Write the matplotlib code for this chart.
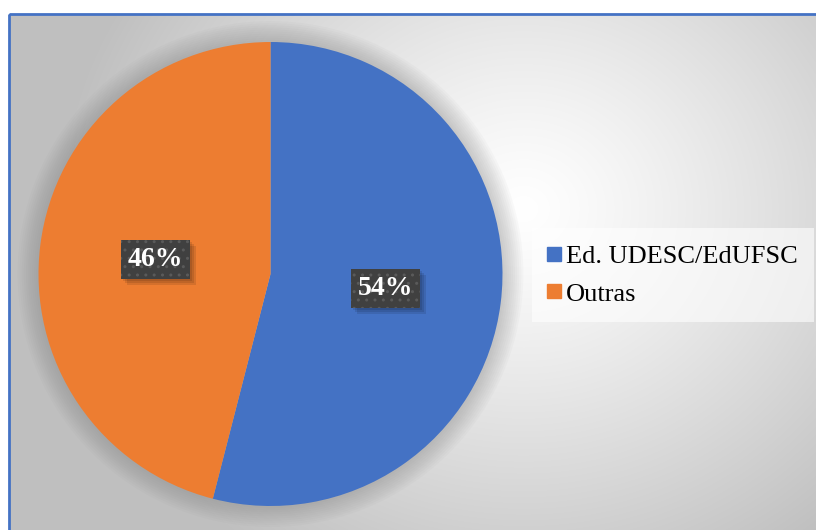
import numpy as np
import matplotlib.pyplot as plt
from matplotlib.patches import Rectangle, Circle

### Data
labels = ['Ed. UDESC/EdUFSC', 'Outras']
shares = [54, 46]
colors = ['#4472C4', '#ED7D31']

plt.rcParams['font.family'] = ['Liberation Serif', 'DejaVu Serif']

W, H = 816, 530
fig = plt.figure(figsize=(W/100, H/100), dpi=100)

### Background: radial grey gradient inside a blue frame
bg = fig.add_axes([0, 0, 1, 1])
bg.set_xlim(0, W)
bg.set_ylim(H, 0)
bg.axis('off')
yy, xx = np.mgrid[0:H, 0:W]
d = np.hypot(xx - 520, (yy - 200)*1.1)
val = 1.0 - 0.25*np.clip(d/470., 0, 1)**1.2
img = np.dstack([val, val, val])
bg.imshow(img, extent=[9, W, H, 14], aspect='auto', zorder=0)
bg.add_patch(Rectangle((9, 14), W, H, fill=False, edgecolor='#4472C4',
                       linewidth=2, zorder=2))

### Pie
cx, cy, r = 270.5, 274, 232
ax = fig.add_axes([(cx - r)/W, (H - cy - r)/H, 2*r/W, 2*r/H])

# soft halo around the pie
for k in range(10):
    ax.add_patch(Circle((0, 0), 1 + 0.009*(10 - k), color='#7a7a7a',
                        alpha=0.04, lw=0, zorder=0, clip_on=False))

wedges, texts, autotexts = ax.pie(shares, colors=colors, startangle=90,
                                  counterclock=False, radius=1,
                                  autopct='%1.0f%%', pctdistance=0.5,
                                  wedgeprops=dict(linewidth=0))
ax.set_xlim(-1, 1)
ax.set_ylim(-1, 1)
ax.axis('off')

for t in autotexts:
    t.set_fontsize(20)
    t.set_fontweight('bold')
    t.set_color('white')
    t.set_zorder(4)
    t.set_bbox(dict(boxstyle='square,pad=0.25', facecolor='#404040',
                    edgecolor='#5a5a5a', hatch='..', linewidth=0))

### Legend
handles = [plt.Line2D([], [], marker='s', linestyle='none', markersize=10,
                      markerfacecolor=c, markeredgecolor=c) for c in colors]
le = fig.legend(handles, labels, loc='center left',
                bbox_to_anchor=(532/W, 1 - 275/H), frameon=True,
                fontsize=19, handlelength=0.5, handletextpad=0.2,
                labelspacing=0.55, borderpad=0.6, borderaxespad=0,
                fancybox=False)
le.get_frame().set_facecolor('white')
le.get_frame().set_alpha(0.6)
le.get_frame().set_edgecolor('none')

# soft drop shadows under the label boxes
fig.canvas.draw()
for t in autotexts:
    bb = t.get_bbox_patch().get_window_extent()
    for k in range(3):
        s = 2 + 2*k
        ax.add_patch(Rectangle((bb.x0 + s, bb.y0 - s), bb.width, bb.height,
                               transform=None, facecolor='black', alpha=0.1,
                               linewidth=0, zorder=3, clip_on=False))

plt.savefig('out.png', dpi=100)
